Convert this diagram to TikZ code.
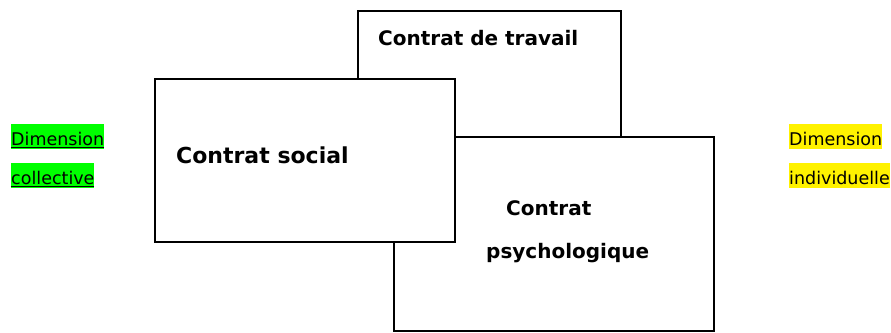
\documentclass[tikz,border=0pt]{standalone}
\usepackage{fontspec}
\setmainfont{DejaVu Sans}
\usepackage{tikz}

\begin{document}
\begin{tikzpicture}[x=1pt,y=-1pt,
	boxline/.style={draw=black,line width=1.8pt,fill=white},
	title/.style={font=\bfseries\fontsize{20}{24}\selectfont,inner sep=0pt,anchor=base west},
	dimlabel/.style={font=\fontsize{17.5}{21}\selectfont,inner sep=0pt,text height=21pt,text depth=4pt,anchor=north west}]

	\useasboundingbox (0,0) rectangle (891,332);

	\coordinate (t1) at (358,11);
	\coordinate (t2) at (621,160);
	\coordinate (p1) at (394,137);
	\coordinate (p2) at (714,331);
	\coordinate (s1) at (155,79);
	\coordinate (s2) at (455,242);
	\draw[boxline] (t1) rectangle (t2);
	\draw[boxline] (p1) rectangle (p2);
	\draw[boxline] (s1) rectangle (s2);

	\node[title] (travail) at (378,45) {Contrat de travail};
	\node[title,font=\bfseries\fontsize{22}{26}\selectfont] (social) at (176,163) {Contrat social};
	\node[title] (contrat) at (506,215) {Contrat};
	\node[title] (psycho) at (486,258) {psychologique};

	\node[dimlabel,fill=green] (dimcol) at (11,124) {\underline{Dimension}};
	\node[dimlabel,fill=green] (collect) at (11,163) {\underline{collective}};
	\node[dimlabel,fill=yellow] (dimind) at (789,124) {Dimension};
	\node[dimlabel,fill=yellow] (indiv) at (789,163) {individuelle};

\end{tikzpicture}
\end{document}
